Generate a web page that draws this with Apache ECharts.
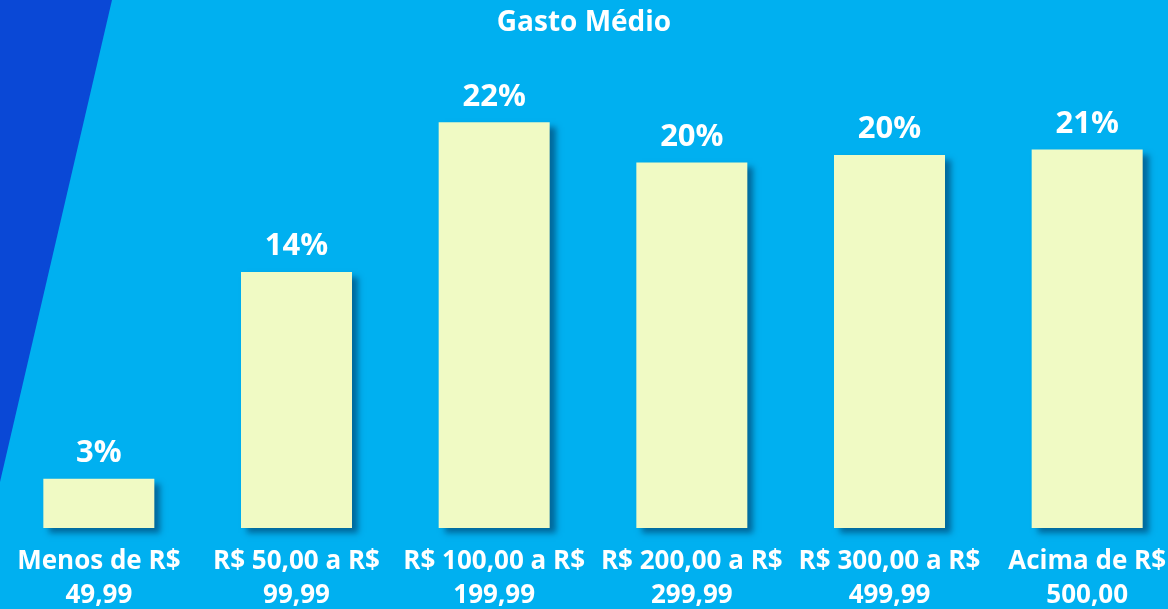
<!DOCTYPE html>
<html>
<head>
<meta charset="utf-8">
<script src="https://cdn.jsdelivr.net/npm/echarts@6/dist/echarts.min.js"></script>
<style>
  html, body { margin: 0; padding: 0; }
  #chart { width: 1168px; height: 609px; }
</style>
</head>
<body>
<div id="chart"></div>
<script>
const categories = [
  'Menos de R$ 49,99',
  'R$ 50,00 a R$ 99,99',
  'R$ 100,00 a R$ 199,99',
  'R$ 200,00 a R$ 299,99',
  'R$ 300,00 a R$ 499,99',
  'Acima de R$ 500,00'
]
// share of answers (labels are rounded)
const shares = [0.027, 0.140, 0.222, 0.200, 0.204, 0.207]

const myChart = echarts.init(document.getElementById('chart'))
myChart.setOption({
  backgroundColor: '#00B0F0',
  textStyle: { fontFamily: 'Open Sans' },
  // dark blue stripe on the left side
  graphic: [
    {
      type: 'polygon',
      z: -1,
      shape: { points: [[0, 0], [112, 0], [0, 482]] },
      style: { fill: '#0A48D6' }
    }
  ],
  title: {
    text: 'Gasto Médio',
    left: 'center',
    top: 4,
    textStyle: { color: '#fff', fontSize: 28, fontWeight: 'bold', fontFamily: 'Open Sans' }
  },
  grid: { left: 0, right: -18, top: 71, bottom: 81, containLabel: false, outerBoundsMode: 'none' },
  xAxis: {
    type: 'category',
    data: categories,
    axisLine: { show: false },
    axisTick: { show: false },
    axisLabel: {
      interval: 0,
      margin: 17,
      color: '#fff',
      fontSize: 26,
      fontWeight: 'bold',
      lineHeight: 34,
      verticalAlign: 'top',
      formatter: function (v) {
        const i = v.lastIndexOf(' ')
        return v.slice(0, i) + '\n' + v.slice(i + 1)
      }
    }
  },
  yAxis: {
    type: 'value',
    min: 0,
    max: 0.25,
    show: false,
    splitLine: { show: false }
  },
  series: [
    {
      type: 'bar',
      data: shares,
      barWidth: 111,
      itemStyle: {
        color: '#F0FAC4',
        borderWidth: 0,
        shadowColor: 'rgba(0, 45, 85, 0.55)',
        shadowBlur: 6,
        shadowOffsetX: 6,
        shadowOffsetY: 5
      },
      label: {
        show: true,
        position: 'top',
        distance: 10,
        color: '#fff',
        fontSize: 31,
        fontWeight: 'bold',
        formatter: function (p) {
          return Math.round(p.value * 100) + '%'
        }
      }
    }
  ]
})
</script>
</body>
</html>
